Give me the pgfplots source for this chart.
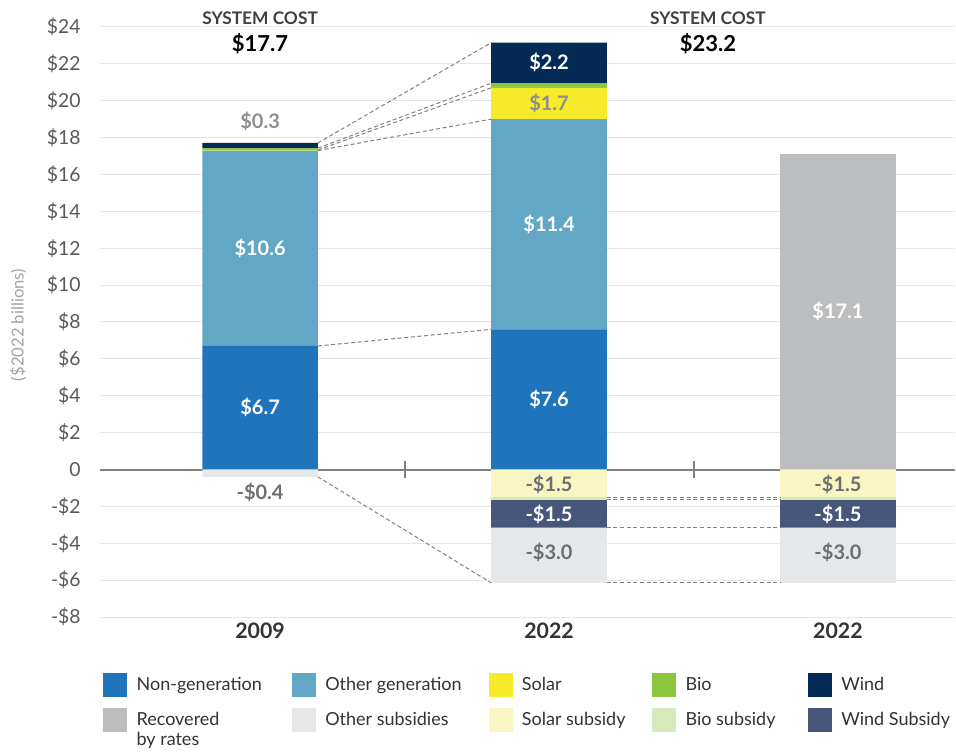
\documentclass[border=0pt]{standalone}
\usepackage{fontspec}
\setmainfont{Lato}
\usepackage{pgfplots}
\pgfplotsset{compat=1.18}
\definecolor{nongen}{HTML}{1F74BB}
\definecolor{othergen}{HTML}{62A7C6}
\definecolor{solar}{HTML}{F6EA2B}
\definecolor{bio}{HTML}{8CC63F}
\definecolor{wind}{HTML}{032B56}
\definecolor{recov}{HTML}{BBBDBF}
\definecolor{othersub}{HTML}{E6E7E8}
\definecolor{solarsub}{HTML}{FAF6C4}
\definecolor{biosub}{HTML}{D6E8BC}
\definecolor{windsub}{HTML}{47577A}
\definecolor{gridc}{HTML}{E6E6E6}
\definecolor{zeroc}{HTML}{808080}
\definecolor{ticktext}{HTML}{58595B}
\definecolor{darktext}{HTML}{333333}
\definecolor{sctext}{HTML}{404040}
\definecolor{labgrey}{HTML}{6D6E71}
\definecolor{labgreyl}{HTML}{8C8E90}
\definecolor{ylabc}{HTML}{A0A2A5}
\pgfplotsset{swatch/.style={legend image code/.code={\fill[##1] (0pt,-9pt) rectangle (18pt,9pt);}}}
\tikzset{
  vlab/.style={font=\bfseries\fontsize{15}{18}\selectfont},
  sclab/.style={font=\bfseries\fontsize{13}{15}\selectfont, text=sctext},
  totlab/.style={font=\bfseries\fontsize{16.5}{20}\selectfont, text=black},
  conn/.style={draw=zeroc, line width=0.75pt, dash pattern=on 3pt off 2pt},
  sepmark/.style={draw=zeroc, line width=1.5pt},
  ylab/.style={font=\fontsize{12.5}{14}\selectfont, text=ylabc}
}
\pgfplotsset{
  common/.style={
    at={(0,0)}, anchor=south west,
    scale only axis, width=641.25pt, height=442.5pt,
    ybar stacked, bar width=0.4,
    xmin=-0.554, xmax=2.405, ymin=-8, ymax=24,
    clip=false
  }
}
\begin{document}
\begin{tikzpicture}
\useasboundingbox (-75pt,-102pt) rectangle (642pt,462.75pt);
% main axis: grid, ticks, positive stack, legend
\begin{axis}[
  common,
  xtick={0,1,2}, xticklabels={2009,2022,2022},
  ytick={-8,-6,-4,-2,0,2,4,6,8,10,12,14,16,18,20,22,24},
  yticklabels={-\$8,-\$6,-\$4,-\$2,0,\$2,\$4,\$6,\$8,\$10,\$12,\$14,\$16,\$18,\$20,\$22,\$24},
  axis line style={draw=none}, major tick length=0pt,
  ymajorgrids, grid style={color=gridc, line width=0.75pt},
  extra y ticks={0}, extra y tick labels={},
  extra y tick style={grid style={color=zeroc, line width=1.5pt}},
  x tick label style={font=\bfseries\fontsize{16}{18}\selectfont, text=darktext, yshift=-1pt},
  y tick label style={font=\fontsize{14.5}{17}\selectfont, text=ticktext, xshift=-11pt},
  every axis plot/.append style={swatch},
  legend columns=5,
  legend cell align=left,
  legend style={at={(rel axis cs:0,0)}, anchor=north west, xshift=2.25pt, yshift=-42pt,
    draw=none, fill=none, inner sep=0pt,
    font=\fontsize{13.5}{15}\selectfont, text=darktext,
    /tikz/every odd column/.append style={column sep=5pt},
    /tikz/every even column/.append style={column sep=0pt},
    row sep=8pt},
]
\addplot[fill=nongen, draw=none] coordinates {(0,6.7) (1,7.6) (2,0)};
\addlegendentry{\makebox[114.5pt][l]{Non-generation}}
\addplot[fill=othergen, draw=none] coordinates {(0,10.6) (1,11.4) (2,0)};
\addlegendentry{\makebox[120.5pt][l]{Other generation}}
\addplot[fill=solar, draw=none] coordinates {(0,0.03) (1,1.7) (2,0)};
\addlegendentry{\makebox[95.75pt][l]{Solar}}
\addplot[fill=bio, draw=none] coordinates {(0,0.1) (1,0.25) (2,0)};
\addlegendentry{\makebox[89.75pt][l]{Bio}}
\addplot[fill=wind, draw=none] coordinates {(0,0.28) (1,2.2) (2,0)};
\addlegendentry{Wind}
\addplot[fill=recov, draw=none] coordinates {(0,0) (1,0) (2,17.1)};
\addlegendentry{\parbox[t]{114.5pt}{Recovered\\by rates}}
\addlegendimage{swatch, fill=othersub, draw=none}
\addlegendentry{\makebox[120.5pt][l]{Other subsidies}}
\addlegendimage{swatch, fill=solarsub, draw=none}
\addlegendentry{\makebox[95.75pt][l]{Solar subsidy}}
\addlegendimage{swatch, fill=biosub, draw=none}
\addlegendentry{\makebox[89.75pt][l]{Bio subsidy}}
\addlegendimage{swatch, fill=windsub, draw=none}
\addlegendentry{Wind Subsidy}
\end{axis}
% overlay axis: negative stack
\begin{axis}[common, hide axis]
\addplot[fill=solarsub, draw=none] coordinates {(0,0) (1,-1.5) (2,-1.5)};
\addplot[fill=biosub, draw=none] coordinates {(0,0) (1,-0.15) (2,-0.15)};
\addplot[fill=windsub, draw=none] coordinates {(0,0) (1,-1.5) (2,-1.5)};
\addplot[fill=othersub, draw=none] coordinates {(0,-0.4) (1,-3.0) (2,-3.0)};
\end{axis}
% overlay axis: connectors and labels on top
\begin{axis}[common, hide axis]
\draw[conn] (axis cs:0.2,6.7) -- (axis cs:0.8,7.6);
\draw[conn] (axis cs:0.2,17.3) -- (axis cs:0.8,19.0);
\draw[conn] (axis cs:0.2,17.33) -- (axis cs:0.8,20.7);
\draw[conn] (axis cs:0.2,17.43) -- (axis cs:0.8,20.95);
\draw[conn] (axis cs:0.2,17.71) -- (axis cs:0.8,23.15);
\draw[conn] (axis cs:0.2,-0.4) -- (axis cs:0.8,-6.15);
\draw[conn] (axis cs:1.2,-1.5) -- (axis cs:1.8,-1.5);
\draw[conn] (axis cs:1.2,-1.65) -- (axis cs:1.8,-1.65);
\draw[conn] (axis cs:1.2,-3.15) -- (axis cs:1.8,-3.15);
\draw[conn] (axis cs:1.2,-6.15) -- (axis cs:1.8,-6.15);
\draw[sepmark] (axis cs:0.5,-0.45) -- (axis cs:0.5,0.45);
\draw[sepmark] (axis cs:1.5,-0.45) -- (axis cs:1.5,0.45);

\node[vlab, text=white] at (axis cs:0,3.35) {\$6.7};
\node[vlab, text=white] at (axis cs:0,12.0) {\$10.6};
\node[vlab, text=labgreyl] at (axis cs:0,18.9) {\$0.3};
\node[vlab, text=labgrey] at (axis cs:0,-1.25) {-\$0.4};
\node[vlab, text=white] at (axis cs:1,3.8) {\$7.6};
\node[vlab, text=white] at (axis cs:1,13.3) {\$11.4};
\node[vlab, text=labgreyl] at (axis cs:1,19.87) {\$1.7};
\node[vlab, text=white] at (axis cs:1,22.1) {\$2.2};
\node[vlab, text=labgrey] at (axis cs:1,-0.8) {-\$1.5};
\node[vlab, text=white] at (axis cs:1,-2.45) {-\$1.5};
\node[vlab, text=labgrey] at (axis cs:1,-4.5) {-\$3.0};
\node[vlab, text=white] at (axis cs:2,8.55) {\$17.1};
\node[vlab, text=labgrey] at (axis cs:2,-0.8) {-\$1.5};
\node[vlab, text=white] at (axis cs:2,-2.45) {-\$1.5};
\node[vlab, text=labgrey] at (axis cs:2,-4.5) {-\$3.0};

\node[sclab] at (axis cs:0,24.5) {SYSTEM COST};
\node[totlab] at (axis cs:0,23.1) {\$17.7};
\node[sclab] at (axis cs:1.55,24.5) {SYSTEM COST};
\node[totlab] at (axis cs:1.55,23.1) {\$23.2};

\node[ylab, rotate=90] at (rel axis cs:-0.0959,0.495) {(\$2022 billions)};
\end{axis}
\end{tikzpicture}
\end{document}
